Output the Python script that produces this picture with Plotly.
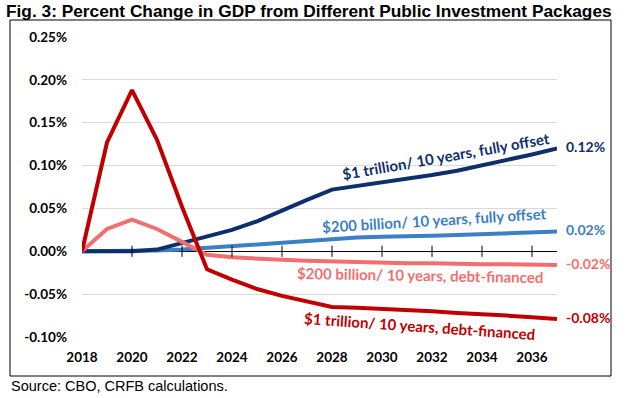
import plotly.graph_objects as go

years = list(range(2018, 2038))

t1_offset = [0.000, 0.000, 0.000, 0.002, 0.010, 0.017, 0.025, 0.035, 0.048, 0.060,
             0.072, 0.076, 0.080, 0.084, 0.089, 0.094, 0.100, 0.107, 0.113, 0.120]
b200_offset = [0.000, 0.000, 0.000, 0.001, 0.002, 0.004, 0.006, 0.008, 0.010, 0.012,
               0.015, 0.016, 0.017, 0.017, 0.018, 0.019, 0.020, 0.021, 0.022, 0.023]
b200_debt = [0.000, 0.026, 0.037, 0.026, 0.011, -0.004, -0.007, -0.009, -0.010, -0.011,
             -0.012, -0.013, -0.013, -0.014, -0.014, -0.015, -0.015, -0.015, -0.016, -0.016]
t1_debt = [0.000, 0.127, 0.188, 0.130, 0.052, -0.021, -0.033, -0.044, -0.052, -0.059,
           -0.065, -0.066, -0.067, -0.069, -0.070, -0.072, -0.073, -0.075, -0.077, -0.079]

series_names = ["$1 trillion/ 10 years, fully offset",
                "$200 billion/ 10 years, fully offset",
                "$200 billion/ 10 years, debt-financed",
                "$1 trillion/ 10 years, debt-financed"]
series_values = [t1_offset, b200_offset, b200_debt, t1_debt]
colors = ["#0e2f6b", "#3b7fc4", "#f26f6f", "#c00000"]

x_ticks = list(range(2018, 2037, 2))
y_ticks = [-0.10, -0.05, 0.00, 0.05, 0.10, 0.15, 0.20, 0.25]

# label placement (year, value, rotation) for in-chart series labels
label_pos = [(2032.55, 0.111, -10), (2032.1, 0.036, -3.5), (2031.5, -0.028, 1), (2031.5, -0.087, 4)]

fig = go.Figure()
for i in [1, 0, 2, 3]:
    fig.add_trace(go.Scatter(x=years, y=series_values[i], mode="lines",
                             line=dict(color=colors[i], width=4),
                             showlegend=False, hoverinfo="skip", cliponaxis=False))

# tick marks on zero line
fig.add_trace(go.Scatter(x=x_ticks[1:], y=[0] * (len(x_ticks) - 1), mode="markers",
                         marker=dict(symbol="line-ns-open", size=8, color="black",
                                     line=dict(color="black", width=1)),
                         showlegend=False, hoverinfo="skip"))

font_ticks = dict(family="Lato", size=13.5, color="black", weight="bold")

fig.update_layout(
    width=626, height=398,
    margin=dict(l=82, r=69, t=37, b=61),
    paper_bgcolor="white", plot_bgcolor="white",
    xaxis=dict(range=[2018, 2037], tickvals=x_ticks, ticktext=[str(v) for v in x_ticks],
               showgrid=False, zeroline=False, showline=False, ticks="",
               tickfont=font_ticks, ticklabelstandoff=10),
    yaxis=dict(range=[-0.10, 0.25], tickvals=y_ticks,
               ticktext=[f"{v:.2f}%" for v in y_ticks],
               showgrid=True, gridcolor="#d9d9d9", gridwidth=1,
               zeroline=True, zerolinecolor="black", zerolinewidth=1,
               showline=False, ticks="", tickfont=font_ticks, ticklabelstandoff=14),
    title=dict(text="<b>Fig. 3: Percent Change in GDP from Different Public Investment Packages</b>",
               x=6 / 626, xanchor="left", xref="container",
               y=1 - 11 / 398, yanchor="middle", yref="container",
               font=dict(family="Liberation Sans", size=17.3, color="black")),
)

for i, (xx, yy, ang) in enumerate(label_pos):
    fig.add_annotation(x=xx, y=yy, text=f"<b>{series_names[i]}</b>", showarrow=False,
                       textangle=ang, font=dict(family="Lato", size=15, color=colors[i]))

for i, vals in enumerate(series_values):
    fig.add_annotation(x=years[-1], y=vals[-1], text=f"<b>{vals[-1]:.2f}%</b>", showarrow=False,
                       xanchor="left", xshift=7, yshift=2,
                       font=dict(family="Lato", size=14, color=colors[i]))

# outer border (four lines)
bx0, bx1 = (10 - 82) / 475, (611 - 82) / 475
by0, by1 = (337 - 376) / 300, (337 - 20) / 300
for (a, b, c, d) in [(bx0, by0, bx1, by0), (bx0, by1, bx1, by1), (bx0, by0, bx0, by1), (bx1, by0, bx1, by1)]:
    fig.add_shape(type="line", xref="paper", yref="paper", x0=a, y0=b, x1=c, y1=d,
                  line=dict(color="black", width=1), layer="above")

fig.add_annotation(xref="paper", yref="paper", x=(9 - 82) / 475, y=(337 - 386) / 300,
                   xanchor="left", yanchor="middle", showarrow=False,
                   text="Source: CBO, CRFB calculations.",
                   font=dict(family="Liberation Sans", size=14.5, color="black"))

fig.write_html("out.html", config={"displayModeBar": False},
               post_script="document.body.style.margin='0';document.body.style.padding='0';")
